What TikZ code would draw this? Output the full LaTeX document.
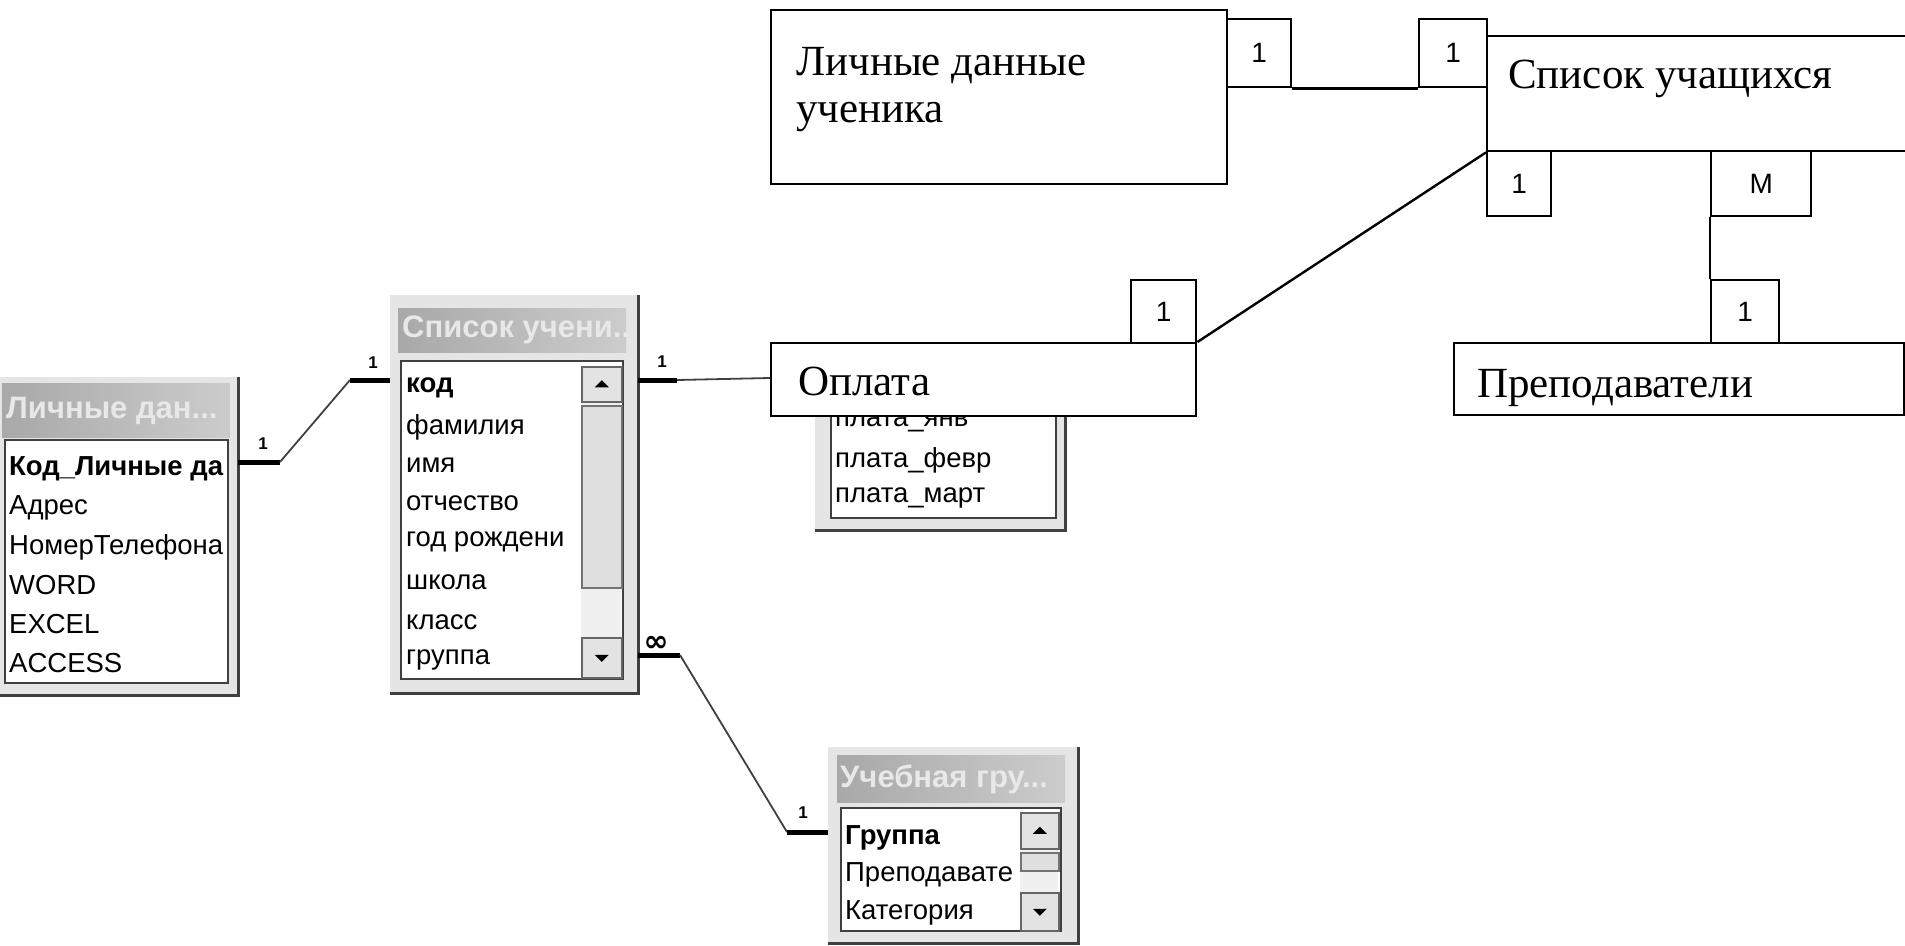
\documentclass[tikz,border=0pt]{standalone}
\usepackage{fontspec}
\setmainfont{Liberation Serif}
\newfontfamily\accfont{Liberation Sans}
\newfontfamily\erfont{Liberation Serif}
\newfontfamily\symfont{DejaVu Sans}
\begin{document}
\begin{tikzpicture}[x=1pt,y=-1pt,
  erbox/.style={draw=black, line width=2.4pt, fill=white, inner sep=0pt, anchor=north west},
  cardbox/.style={draw=black, line width=2.4pt, fill=white, inner sep=0pt, anchor=north west,
     font=\accfont\fontsize{28}{30}\selectfont},
  ertext/.style={font=\erfont\fontsize{43}{47}\selectfont, inner sep=0pt, anchor=base west},
  erline/.style={draw=black, line width=2.4pt},
  win/.style={anchor=north west, inner sep=0pt, fill=gray!20, draw=none},
  windark/.style={draw=black!75, line width=3pt},
  titlebar/.style={anchor=north west, inner sep=0pt, left color=gray!68, right color=gray!40, draw=none},
  titletext/.style={anchor=west, inner sep=0pt, text=white!82!gray, font=\accfont\bfseries\fontsize{31}{33}\selectfont},
  listbox/.style={anchor=north west, inner sep=0pt, fill=white, draw=black!75, line width=2pt},
  row/.style={anchor=west, inner sep=0pt, font=\accfont\fontsize{27.5}{29}\selectfont},
  sbtn/.style={anchor=north west, inner sep=0pt, fill=gray!22, draw=black!60, line width=1.5pt},
  sthumb/.style={anchor=north west, inner sep=0pt, fill=gray!25, draw=black!55, line width=1.5pt},
  strack/.style={anchor=north west, inner sep=0pt, fill=gray!12, draw=none},
  linkbar/.style={draw=black, line width=5pt},
  linkthin/.style={draw=black!75, line width=1.8pt},
  linklbl/.style={inner sep=0pt, font=\accfont\bfseries\fontsize{17}{18}\selectfont},
]
\useasboundingbox (0,0) rectangle (1905,945);

% ---------- Table A: Личные дан...
\node[win, minimum width=238pt, minimum height=318pt] (tA) at (0,377) {};
\draw[windark] (tA.north east) -- (tA.south east) -- (tA.south west);
\node[titlebar, minimum width=228pt, minimum height=54pt] (tAh) at (2,383) {};
\begin{scope}
\clip (tAh.north west) rectangle (tAh.south east);
\node[titletext] (tAt) at (6,411) {Личные дан...};
\end{scope}
\node[listbox, minimum width=223pt, minimum height=243pt] (tAl) at (4,439) {};
\node[row] (a1) at (9,469) {\bfseries Код\_Личные да};
\node[row] (a2) at (9,508) {Адрес};
\node[row] (a3) at (9,547) {НомерТелефона};
\node[row] (a4) at (9,585) {WORD};
\node[row] (a5) at (9,624) {EXCEL};
\node[row] (a6) at (9,663) {ACCESS};

% ---------- Table B: Список учени...
\node[win, minimum width=248pt, minimum height=398pt] (tB) at (390,295) {};
\draw[windark] (tB.north east) -- (tB.south east) -- (tB.south west);
\node[titlebar, minimum width=228pt, minimum height=44pt] (tBh) at (398,308) {};
\begin{scope}
\clip (tBh.north west) rectangle (tBh.south east);
\node[titletext] (tBt) at (402,330) {Список учени...};
\end{scope}
\node[listbox, minimum width=222pt, minimum height=318pt] (tBl) at (400,360) {};
\node[row] (b1) at (406,388) {\bfseries код};
\node[row] (b2) at (406,427) {фамилия};
\node[row] (b3) at (406,465) {имя};
\node[row] (b4) at (406,503) {отчество};
\node[row] (b5) at (406,542) {год рождени};
\node[row] (b6) at (406,582) {школа};
\node[row] (b7) at (406,622) {класс};
\node[row] (b8) at (406,660) {группа};
\node[strack, minimum width=40pt, minimum height=310pt] (bst) at (581,366) {};
\node[sbtn, minimum width=40pt, minimum height=35pt] (bup) at (581,366) {};
\fill (bup.center) ++(-7,3) -- ++(14,0) -- ++(-7,-7) -- cycle;
\node[sthumb, minimum width=40pt, minimum height=182pt] (bth) at (581,405) {};
\node[sbtn, minimum width=40pt, minimum height=40pt] (bdn) at (581,637) {};
\fill (bdn.center) ++(-7,-3) -- ++(14,0) -- ++(-7,7) -- cycle;

% ---------- Table C: Оплата (hidden behind)
\node[win, minimum width=250pt, minimum height=170pt] (tC) at (815,360) {};
\draw[windark] (tC.north east) -- (tC.south east) -- (tC.south west);
\node[listbox, minimum width=225pt, minimum height=152pt] (tCl) at (830,365) {};
\node[row] (c1) at (835,422) {плата\_янв};
\node[row] (c2) at (835,460) {плата\_февр};
\node[row] (c3) at (835,498) {плата\_март};

% ---------- Table D: Учебная гру...
\node[win, minimum width=250pt, minimum height=196pt] (tD) at (828,747) {};
\draw[windark] (tD.north east) -- (tD.south east) -- (tD.south west);
\node[titlebar, minimum width=228pt, minimum height=47pt] (tDh) at (837,755) {};
\begin{scope}
\clip (tDh.north west) rectangle (tDh.south east);
\node[titletext] (tDt) at (840,779) {Учебная гру...};
\end{scope}
\node[listbox, minimum width=220pt, minimum height=123pt] (tDl) at (840,807) {};
\node[row] (d1) at (845,838) {\bfseries Группа};
\node[row] (d2) at (845,875) {Преподавате};
\node[row] (d3) at (845,913) {Категория};
\node[strack, minimum width=38pt, minimum height=116pt] (dst) at (1020,812) {};
\node[sbtn, minimum width=38pt, minimum height=36pt] (dup) at (1020,812) {};
\fill (dup.center) ++(-7,3) -- ++(14,0) -- ++(-7,-7) -- cycle;
\node[sthumb, minimum width=38pt, minimum height=18pt] (dth) at (1020,852) {};
\node[sbtn, minimum width=38pt, minimum height=38pt] (ddn) at (1020,892) {};
\fill (ddn.center) ++(-7,-3) -- ++(14,0) -- ++(-7,7) -- cycle;

% ---------- Access links
\coordinate (L1p) at (280,462);
\coordinate (L1q) at (350,380);
\draw[linkbar] (tA.east |- L1p) -- (L1p);
\draw[linkthin] (L1p) -- (L1q);
\draw[linkbar] (L1q) -- (tB.west |- L1q);
\node[linklbl] (L1a) at (263,444) {1};
\node[linklbl] (L1b) at (373,363) {1};

\coordinate (L2p) at (677,380);
\draw[linkbar] (tB.east |- L2p) -- (L2p);
\node[linklbl] (L2a) at (662,362) {1};

\coordinate (L3p) at (680,655);
\coordinate (L3q) at (787,832);
\draw[linkbar] (tB.east |- L3p) -- (L3p);
\draw[linkthin] (L3p) -- (L3q);
\draw[linkbar] (L3q) -- (tD.west |- L3q);
\node[inner sep=0pt, font=\symfont\bfseries\fontsize{30}{30}\selectfont] (L3a) at (656,644) {∞};
\node[linklbl] (L3b) at (803,813) {1};

% ---------- ER boxes
\node[erbox, minimum width=456pt, minimum height=174pt] (E1) at (770,9) {};
\node[ertext] (E1a) at (796,75) {Личные данные};
\node[ertext] (E1b) at (796,122) {ученика};

\node[erbox, minimum width=425pt, minimum height=73pt] (E4) at (770,342) {};
\node[ertext] (E4a) at (798,395) {Оплата};
\draw[linkthin] (L2p) -- (E4.west |- 0,378);

\node[erbox, minimum width=420pt, minimum height=115pt] (E2) at (1486,35) {};
\node[ertext] (E2a) at (1508,88) {Список учащихся};

\node[erbox, minimum width=450pt, minimum height=72pt] (E3) at (1453,342) {};
\node[ertext] (E3a) at (1477,397) {Преподаватели};

\node[cardbox, minimum width=64pt, minimum height=68pt] (k1) at (1226,18) {1};
\node[cardbox, minimum width=68pt, minimum height=68pt] (k2) at (1418,18) {1};
\node[cardbox, minimum width=64pt, minimum height=65pt] (k3) at (1486,150) {1};
\node[cardbox, minimum width=100pt, minimum height=65pt] (k4) at (1710,150) {M};
\node[cardbox, minimum width=68pt, minimum height=63pt] (k5) at (1710,279) {1};
\node[cardbox, minimum width=65pt, minimum height=63pt] (k6) at (1130,279) {1};

\draw[erline] (k1.south east) -- (k2.south west);
\draw[erline] (k4.south west) -- (k5.north west);
\draw[erline] (E4.north east) -- (E2.south west);
\end{tikzpicture}
\end{document}
